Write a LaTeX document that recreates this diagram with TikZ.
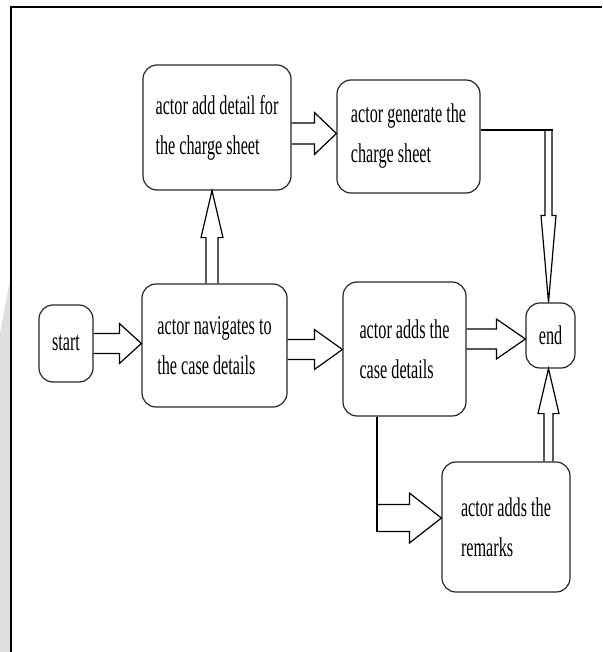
\documentclass[tikz,border=0pt]{standalone}
\usepackage{fontspec}
\newfontfamily\boxfont[FakeStretch=0.6]{Liberation Serif}
\usepackage{tikz}
\usetikzlibrary{calc}

% hollow block arrow: start, tip, half shaft, half head, head length
\newcommand{\hollowarrow}[5]{%
  \coordinate (hb) at ($(#2)!#5!(#1)$);
  \draw[blockline] ($(#1)!#3!90:(#2)$) -- ($(hb)!#3!90:(#2)$) -- ($(hb)!#4!90:(#2)$) -- (#2)
    -- ($(hb)!#4!-90:(#2)$) -- ($(hb)!#3!-90:(#2)$) -- ($(#1)!#3!-90:(#2)$);
}

\begin{document}
\begin{tikzpicture}[
  x=1pt, y=-1pt,
  stage/.style={draw=black!85, line width=1.2pt, rounded corners=14pt, align=left,
    font={\boxfont\fontsize{27}{40}\selectfont}},
  blockline/.style={draw=black, line width=1.2pt, line join=miter},
  frame/.style={line width=2pt},
]
\useasboundingbox (0,0) rectangle (602,652);

% ============ frame ============
\fill[gray!25] (0,333) -- (10,280) -- (10,652) -- (0,652) -- cycle;
\draw[frame] (11,652) -- (11,7) -- (602,7);

% ============ stages ============
\node[stage, minimum width=148pt, minimum height=125pt] (detail) at (217,127.5) {actor add detail for\\the charge sheet};
\node[stage, minimum width=143pt, minimum height=113pt] (gen) at (408.5,136.5) {actor generate the\\charge sheet};
\node[stage, minimum width=54pt, minimum height=77pt] (start) at (66,343.5) {start};
\node[stage, minimum width=145pt, minimum height=123pt] (nav) at (214.5,345.5) {actor navigates to\\the case details};
\node[stage, minimum width=123pt, minimum height=134pt] (cased) at (404.5,349) {actor adds the\\case details};
\node[stage, minimum width=49pt, minimum height=65pt] (end) at (550.5,335.5) {end};
\node[stage, minimum width=128pt, minimum height=130pt] (remarks) at (506,527) {actor adds the\\remarks};

% ============ arrows ============
\coordinate (a1s) at (start.east);
\coordinate (a1t) at (start.east -| nav.west);
\hollowarrow{a1s}{a1t}{10pt}{20pt}{22pt}

\coordinate (a2s) at ($(nav.east)+(0,4)$);
\coordinate (a2t) at (a2s -| cased.west);
\hollowarrow{a2s}{a2t}{10pt}{20pt}{28pt}

\coordinate (a3t) at ($(end.west)+(0,3.5)$);
\coordinate (a3s) at (a3t -| cased.east);
\hollowarrow{a3s}{a3t}{10pt}{20pt}{29pt}

\coordinate (a4t) at ($(gen.west)+(0,-3)$);
\coordinate (a4s) at (a4t -| detail.east);
\hollowarrow{a4s}{a4t}{10.5pt}{21pt}{22pt}

\coordinate (a5s) at ($(nav.north)+(-2.5,0)$);
\coordinate (a5t) at (a5s |- detail.south);
\hollowarrow{a5s}{a5t}{6pt}{11pt}{47pt}

% generate -> end, around the corner
\coordinate (c6) at ($(gen.east)+(0,-6.5)$);
\coordinate (a6s) at ($(c6 -| end.north)+(-2,0)$);
\coordinate (a6t) at (a6s |- end.north);
\draw[line width=2pt] (c6) -- ($(a6s)+(4,0)$);
\hollowarrow{a6s}{a6t}{3.5pt}{7.5pt}{87pt}

\coordinate (a7t) at ($(end.south)+(-2,0)$);
\coordinate (a7s) at (a7t |- remarks.north);
\hollowarrow{a7s}{a7t}{4.5pt}{10.5pt}{45pt}

% case details -> remarks, down then right
\coordinate (a8t) at ($(remarks.west)+(0,-9)$);
\coordinate (a8s) at ($(a8t -| cased.south)+(-27.5,0)$);
\draw[blockline] ($(cased.south)+(-27.5,0)$) -- ($(a8s)+(0,13.5)$);
\hollowarrow{a8s}{a8t}{13.5pt}{25pt}{32pt}

\end{tikzpicture}
\end{document}
